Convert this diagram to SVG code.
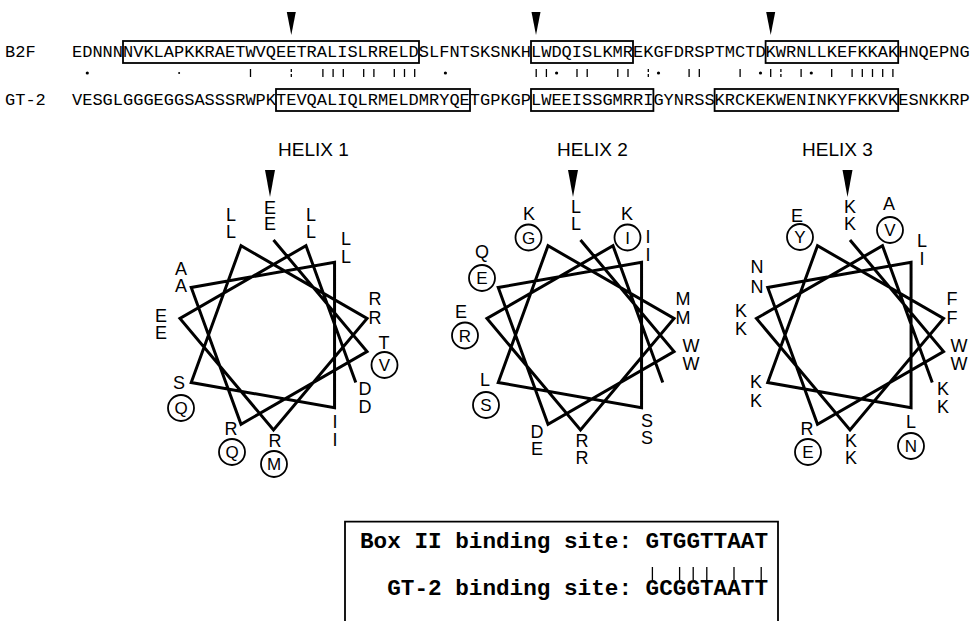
<svg xmlns="http://www.w3.org/2000/svg" xmlns:xlink="http://www.w3.org/1999/xlink" width="970" height="621" viewBox="0 0 970 621">
<style>
.seq{font-family:"Liberation Mono","Courier New",monospace;font-size:17px;fill:#000}
.lab{font-family:"Liberation Sans",Arial,Helvetica,sans-serif;font-size:18px;fill:#000;text-anchor:middle}
.cl{font-family:"Liberation Sans",Arial,Helvetica,sans-serif;font-size:17px;fill:#000;text-anchor:middle}
.ttl{font-family:"Liberation Sans",Arial,Helvetica,sans-serif;font-size:19px;fill:#000}
.circ{fill:none;stroke:#000;stroke-width:1.8}
.wheel{fill:none;stroke:#000;stroke-width:3;stroke-linejoin:miter}
.box{fill:none;stroke:#000;stroke-width:1.8}
.bar{stroke:#000;stroke-width:1.3}
.bold{font-family:"Liberation Mono","Courier New",monospace;font-weight:bold;font-size:22.67px;fill:#000}
</style>
<defs>
<path id="wheelpath" class="wheel" d="M0,-95 L93.56,16.5 L-32.49,89.27 L-82.27,-47.5 L61.06,-72.77 L61.06,72.77 L-82.27,47.5 L-32.49,-89.27 L93.56,-16.5 L0,95 L-93.56,-16.5 L32.49,-89.27 L82.27,47.5"/>
<polygon id="arrowS" points="-4.5,0 4.5,0 0,23" fill="#000"/>
<polygon id="arrowH" points="-5,0 5,0 0,27" fill="#000"/>
</defs>

<g id="sequence-b2f">
<text class="seq" x="5" y="57">B2F</text>
<text class="seq" x="72" y="57" textLength="897.6" lengthAdjust="spacing">EDNNNNVKLAPKKRAETWVQEETRALISLRRELDSLFNTSKSNKHLWDQISLKMREKGFDRSPTMCTDKWRNLLKEFKKAKHNQEPNG</text>
<rect class="box" x="123" y="41" width="296" height="22"/>
<rect class="box" x="531" y="41" width="102" height="22"/>
<rect class="box" x="765.6" y="41" width="132.6" height="22"/>
<use xlink:href="#arrowS" x="291.3" y="12"/>
<use xlink:href="#arrowS" x="536" y="12"/>
<use xlink:href="#arrowS" x="770.7" y="12"/>
</g>

<g id="sequence-gt2">
<text class="seq" x="5" y="104.5">GT-2</text>
<text class="seq" x="72" y="104.5" textLength="897.6" lengthAdjust="spacing">VESGLGGGEGGSASSSRWPKTEVQALIQLRMELDMRYQETGPKGPLWEEISSGMRRIGYNRSSKRCKEKWENINKYFKKVKESNKKRP</text>
<rect class="box" x="276" y="89" width="194" height="22"/>
<rect class="box" x="531" y="89" width="122.4" height="22"/>
<rect class="box" x="714.6" y="89" width="183.6" height="22"/>
</g>

<g id="alignment-marks">
<circle cx="87.3" cy="73" r="1.6"/>
<circle cx="179.1" cy="73" r="1"/>
<circle cx="445.4" cy="73" r="1.6"/>
<circle cx="556.6" cy="73" r="1.6"/>
<circle cx="658.5" cy="73" r="1.6"/>
<circle cx="760.5" cy="73" r="1.6"/>
<circle cx="811.3" cy="73" r="1.6"/>
<path class="bar" d="M250.5,69V77 M291.3,69V72 M291.3,74V77 M322.9,69V77 M333.1,69V77 M343.3,69V77 M363.7,69V77 M373.9,69V77 M394.3,69V77 M404.5,69V77 M414.7,69V77 M536.2,69V77 M546.4,69V77 M577,69V77 M587.2,69V77 M617.8,69V77 M628,69V77 M648.3,69V72 M648.3,74V77 M689.1,69V77 M699.3,69V77 M740.1,69V77 M770.7,69V77 M780.9,69V72 M780.9,74V77 M801.1,69V77 M831.7,69V77 M852.1,69V77 M862.3,69V77 M872.5,69V77 M882.7,69V77 M892.9,69V77"/>
</g>

<g id="helix1">
<text class="ttl" x="278" y="156">HELIX 1</text>
<use xlink:href="#arrowH" x="270" y="170"/>
<use xlink:href="#wheelpath" x="273.5" y="335"/>
<text class="lab" x="270" y="214">E</text><text class="lab" x="270" y="230">E</text>
<text class="lab" x="231" y="221">L</text><text class="lab" x="231" y="238">L</text>
<text class="lab" x="311" y="221">L</text><text class="lab" x="311" y="238">L</text>
<text class="lab" x="346" y="245">L</text><text class="lab" x="346" y="263">L</text>
<text class="lab" x="181" y="275">A</text><text class="lab" x="181" y="292">A</text>
<text class="lab" x="161" y="322">E</text><text class="lab" x="161" y="339">E</text>
<text class="lab" x="375" y="305">R</text><text class="lab" x="375" y="324">R</text>
<text class="lab" x="384" y="349">T</text>
<circle class="circ" cx="384.5" cy="365" r="13"/><text class="cl" x="384.5" y="371">V</text>
<text class="lab" x="365" y="395">D</text><text class="lab" x="365" y="413">D</text>
<text class="lab" x="335" y="428">I</text><text class="lab" x="335" y="446">I</text>
<text class="lab" x="179" y="389">S</text>
<circle class="circ" cx="181" cy="408" r="13"/><text class="cl" x="181" y="414">Q</text>
<text class="lab" x="231" y="435">R</text>
<circle class="circ" cx="232" cy="452" r="13"/><text class="cl" x="232" y="458">Q</text>
<text class="lab" x="275" y="447">R</text>
<circle class="circ" cx="274" cy="464" r="13"/><text class="cl" x="274" y="470">M</text>
</g>

<g id="helix2">
<text class="ttl" x="557" y="156">HELIX 2</text>
<use xlink:href="#arrowH" x="573" y="170"/>
<use xlink:href="#wheelpath" x="580.5" y="335"/>
<text class="lab" x="576" y="213">L</text><text class="lab" x="576" y="230">L</text>
<text class="lab" x="529" y="220">K</text>
<circle class="circ" cx="528.5" cy="237.5" r="13"/><text class="cl" x="528.5" y="243.5">G</text>
<text class="lab" x="627" y="220">K</text>
<circle class="circ" cx="627.5" cy="237.5" r="13"/><text class="cl" x="627.5" y="243.5">I</text>
<text class="lab" x="648" y="243">I</text><text class="lab" x="648" y="261">I</text>
<text class="lab" x="482" y="258">Q</text>
<circle class="circ" cx="482" cy="278" r="13"/><text class="cl" x="482" y="284">E</text>
<text class="lab" x="461" y="318">E</text>
<circle class="circ" cx="465" cy="335.5" r="13"/><text class="cl" x="465" y="341.5">R</text>
<text class="lab" x="485" y="386">L</text>
<circle class="circ" cx="486" cy="405" r="13"/><text class="cl" x="486" y="411">S</text>
<text class="lab" x="537" y="438">D</text><text class="lab" x="537" y="455">E</text>
<text class="lab" x="582" y="447">R</text><text class="lab" x="582" y="464">R</text>
<text class="lab" x="647" y="427">S</text><text class="lab" x="647" y="444">S</text>
<text class="lab" x="683" y="305">M</text><text class="lab" x="683" y="324">M</text>
<text class="lab" x="691" y="352">W</text><text class="lab" x="691" y="370">W</text>
</g>

<g id="helix3">
<text class="ttl" x="802" y="156">HELIX 3</text>
<use xlink:href="#arrowH" x="847.5" y="170"/>
<use xlink:href="#wheelpath" x="850" y="335"/>
<text class="lab" x="850" y="213">K</text><text class="lab" x="850" y="230">K</text>
<text class="lab" x="797" y="222">E</text>
<circle class="circ" cx="800" cy="237" r="13"/><text class="cl" x="800" y="243">Y</text>
<text class="lab" x="889" y="210">A</text>
<circle class="circ" cx="890" cy="230" r="13"/><text class="cl" x="890" y="236">V</text>
<text class="lab" x="922" y="247">L</text><text class="lab" x="922" y="265">I</text>
<text class="lab" x="757" y="273">N</text><text class="lab" x="757" y="293">N</text>
<text class="lab" x="741" y="317">K</text><text class="lab" x="741" y="335">K</text>
<text class="lab" x="952" y="305">F</text><text class="lab" x="952" y="324">F</text>
<text class="lab" x="959" y="352">W</text><text class="lab" x="959" y="370">W</text>
<text class="lab" x="943" y="395">K</text><text class="lab" x="943" y="413">K</text>
<text class="lab" x="756" y="388">K</text><text class="lab" x="756" y="407">K</text>
<text class="lab" x="911" y="428">L</text>
<circle class="circ" cx="911" cy="446" r="13"/><text class="cl" x="911" y="452">N</text>
<text class="lab" x="851" y="447">K</text><text class="lab" x="851" y="464">K</text>
<text class="lab" x="807" y="435">R</text>
<circle class="circ" cx="808" cy="452" r="13"/><text class="cl" x="808" y="458">E</text>
</g>

<g id="binding-box">
<path class="box" d="M345,630 V521.7 H778 V630"/>
<text class="bold" x="360" y="548" xml:space="preserve" textLength="408" lengthAdjust="spacing">Box II binding site: GTGGTTAAT</text>
<path class="bar" stroke-width="2" d="M652.4,567V580 M679.6,567V580 M693.2,567V580 M706.8,567V580 M734,567V580 M761.2,567V580"/>
<text class="bold" x="387.2" y="595">GT-2</text>
<text class="bold" x="455.2" y="595" xml:space="preserve" textLength="312.8" lengthAdjust="spacing">binding site: GCGGTAATT</text>
</g>
</svg>
